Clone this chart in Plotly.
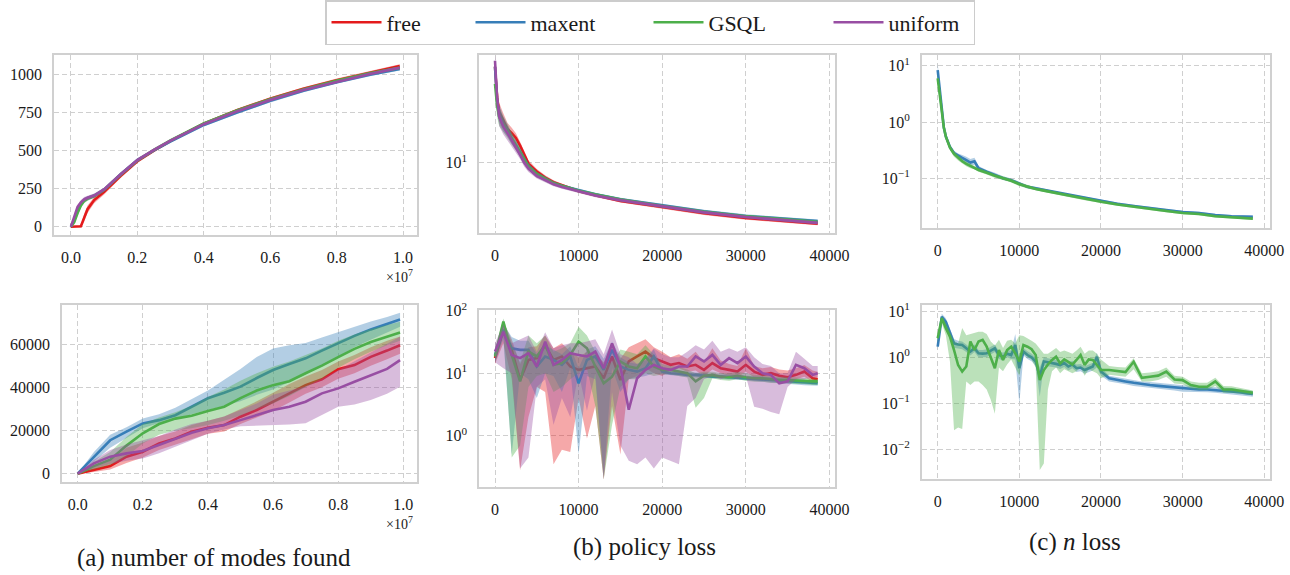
import plotly.graph_objects as go

W, H = 1290, 575
FONT = "Liberation Serif"
TXT = "#1a1a1a"
GRID = "#cfcfcf"
BOX = "#d0d0d0"

SERIES = ["free", "maxent", "GSQL", "uniform"]
COLORS = {"free": (228, 26, 28), "maxent": (55, 126, 184),
          "GSQL": (77, 175, 74), "uniform": (152, 78, 163)}

# ---------------- (a) top : number of modes found ----------------
a_top_steps = [0, 1e5, 2e5, 3e5, 4e5, 5e5, 7e5, 1e6, 1.5e6, 2e6, 2.5e6, 3e6,
               4e6, 5e6, 6e6, 7e6, 8e6, 9e6, 9.9e6]
a_top_free = [0, 0, 0, 3, 60, 115, 175, 230, 335, 430, 500, 563, 676, 765, 840, 905, 962, 1012, 1055]
a_top_maxent = [0, 50, 110, 150, 175, 187, 203, 244, 345, 437, 502, 560, 668, 750, 826, 892, 948, 998, 1035]
a_top_gsql = [0, 30, 90, 140, 170, 185, 202, 243, 343, 435, 505, 567, 678, 763, 837, 901, 958, 1007, 1043]
a_top_uniform = [0, 70, 130, 160, 180, 190, 205, 245, 345, 437, 505, 565, 673, 757, 832, 898, 953, 1003, 1043]
a_top_free_hw = [0, 2, 2, 8, 25, 25, 20, 18, 14, 12, 10, 10, 10, 10, 10, 10, 10, 10, 12]
a_top_other_hw = [0, 12, 15, 15, 15, 14, 13, 12, 12, 12, 10, 10, 10, 10, 10, 10, 10, 10, 10]

# ---------------- (a) bottom ----------------
a_bot_steps = [0, 5e5, 1e6, 1.5e6, 2e6, 2.5e6, 3e6, 3.5e6, 4e6, 4.5e6, 5e6, 5.5e6,
               6e6, 6.5e6, 7e6, 7.5e6, 8e6, 8.5e6, 9e6, 9.5e6, 9.9e6]
a_bot_free = [0, 1700, 3500, 7900, 10200, 14000, 16300, 19400, 21300, 22500, 26400, 29500,
              33300, 37200, 41000, 43700, 48400, 50300, 54100, 57000, 59500]
a_bot_free_lo = [0, 800, 2000, 5000, 7500, 11000, 13500, 16000, 18500, 19500, 23000, 26000,
                 29000, 33000, 37000, 40000, 44000, 46500, 50000, 53000, 55500]
a_bot_free_hi = [0, 3000, 6000, 12000, 14500, 17500, 19500, 22500, 24500, 26500, 30000, 33500,
                 37500, 41500, 45000, 48000, 52000, 55000, 58500, 61500, 63500]
a_bot_maxent = [0, 7900, 15500, 19500, 23300, 24800, 27100, 31000, 34900, 37500, 40300, 44300,
                48000, 50800, 53400, 57000, 60500, 63800, 66800, 69300, 71400]
a_bot_maxent_lo = [0, 5500, 12000, 16500, 21000, 23500, 25000, 27500, 29500, 31500, 33500, 36500,
                   39000, 42500, 46000, 50000, 54000, 58500, 62000, 65500, 68000]
a_bot_maxent_hi = [0, 10000, 18000, 21500, 25500, 27500, 30500, 34500, 38500, 43500, 48500, 54000,
                   58000, 59500, 60500, 63000, 65500, 68000, 70500, 72500, 74500]
a_bot_gsql = [0, 3500, 6500, 13000, 18700, 23000, 25500, 26800, 29000, 31000, 35000, 38500,
              41000, 42800, 46500, 50000, 54000, 57800, 61000, 63500, 65400]
a_bot_gsql_lo = [0, 2000, 4000, 8000, 14000, 18000, 20000, 21000, 22500, 24500, 27000, 30000,
                 32500, 36000, 40000, 44000, 49000, 53000, 56500, 59500, 61500]
a_bot_gsql_hi = [0, 5500, 10000, 17000, 23000, 26000, 28500, 31500, 35500, 39000, 43000, 46500,
                 49500, 52000, 55000, 58000, 61500, 64500, 67000, 69000, 70300]
a_bot_uniform = [0, 4800, 7900, 9400, 10500, 13300, 16300, 19000, 21000, 22500, 24800, 27100,
                 29500, 31000, 33300, 37200, 39500, 42600, 45700, 48500, 52600]
a_bot_uniform_lo = [0, 2500, 4500, 6000, 7000, 9500, 12500, 15500, 18500, 20500, 22000, 22500,
                    22500, 22800, 23300, 27000, 31000, 32000, 34100, 37000, 40300]
a_bot_uniform_hi = [0, 6500, 11000, 13500, 15500, 17500, 20500, 23000, 24500, 26500, 29500, 32500,
                    36500, 38500, 40500, 44000, 48000, 52000, 56000, 60000, 63400]

# ---------------- (b) top : policy loss ----------------
b_top_steps = [0, 250, 500, 1000, 1500, 2000, 2500, 3000, 3500, 4000, 5000, 6000, 7000, 8000,
               10000, 12000, 15000, 20000, 25000, 30000, 35000, 38600]
b_top_free = [32, 22, 18.5, 16.5, 15, 14.3, 13.5, 12.3, 11, 9.9, 9.0, 8.35, 7.9, 7.6, 7.1, 6.75,
              6.3, 5.85, 5.42, 5.12, 4.92, 4.78]
b_top_maxent = [32, 21, 18, 16, 14.8, 13.4, 12.4, 11.4, 10.4, 9.6, 8.7, 8.2, 7.8, 7.55, 7.15, 6.82,
                6.42, 5.95, 5.55, 5.25, 5.05, 4.93]
b_top_gsql = [26, 20, 17.5, 15.8, 14.6, 13.3, 12.3, 11.3, 10.3, 9.5, 8.7, 8.2, 7.8, 7.55, 7.12, 6.8,
              6.4, 5.92, 5.52, 5.22, 5.0, 4.88]
b_top_uniform = [34.4, 22, 17.5, 15.5, 14.3, 13.0, 12.0, 11.0, 10.0, 9.3, 8.5, 8.1, 7.7, 7.45, 7.05,
                 6.72, 6.35, 5.88, 5.48, 5.18, 4.98, 4.83]
b_top_band_ratio = [1.08, 1.15, 1.12, 1.1, 1.08, 1.07, 1.06, 1.05, 1.05, 1.04, 1.03, 1.03, 1.025,
                    1.02, 1.02, 1.02, 1.02, 1.02, 1.02, 1.02, 1.02, 1.02]

# ---------------- (b) bottom ----------------
b_bot_steps = list(range(0, 38001, 1000)) + [38600]
b_bot_free = [17.4, 49, 23.6, 7.8, 16.3, 17.4, 28, 16.3, 18.5, 12.8,
              11.3, 12, 12.8, 8.3, 18.5, 7.8, 15.4, 18.5, 22.2, 17.4,
              15.4, 13.6, 14.5, 12.8, 13.6, 11.3, 14.5, 12, 11.3, 10.6,
              13.6, 10.6, 9.4, 10, 9.1, 8.6, 9.4, 10.6, 8.3, 8.0]
b_bot_free_hi = [22, 65, 35, 14, 26, 27, 40, 25, 30, 22,
                 18, 22, 20, 15, 28, 17, 26, 30, 35, 26,
                 22, 18, 20, 17, 22, 15, 25, 16, 14, 13,
                 25, 13, 12, 12.5, 11.5, 11, 12, 13.5, 11, 10.5]
b_bot_free_lo = [14, 30, 8, 0.28, 2, 6, 5, 0.35, 0.6, 0.55,
                 4, 0.9, 3, 0.2, 3, 0.5, 8, 9, 12, 10,
                 9, 11, 12, 10.5, 11, 9, 11.5, 10, 9, 8.5,
                 10.5, 8.5, 7.8, 8.2, 7.6, 7.3, 8, 8.8, 7.2, 7.0]
b_bot_maxent = [19.6, 49, 25, 23.6, 23.6, 12.8, 18.5, 16.3, 13.6, 18.5,
                6.9, 16.3, 18.5, 11.3, 23.6, 12.8, 11.3, 10.6, 12, 18.5,
                10.6, 10, 9.8, 9.4, 9.4, 9.1, 8.8, 8.8, 8.6, 8.6,
                8.3, 8.2, 8.0, 7.8, 7.6, 7.4, 7.2, 7.1, 6.9, 6.9]
b_bot_maxent_hi = [25, 62, 38, 33, 33, 20, 28, 24, 20, 27,
                   12, 24, 27, 17, 32, 18, 15, 14, 16, 24,
                   12, 11, 10.8, 10.4, 10.3, 10, 9.6, 9.6, 9.4, 9.4,
                   9.1, 9, 8.8, 8.6, 8.4, 8.2, 8, 7.8, 7.6, 7.6]
b_bot_maxent_lo = [15, 35, 0.5, 10, 8, 4, 10, 9, 5, 12,
                   0.5, 9, 8, 0.22, 12, 5, 8, 8.5, 9, 10,
                   9.5, 9.2, 9.0, 8.7, 8.6, 8.4, 8.1, 8.1, 7.9, 7.9,
                   7.6, 7.5, 7.3, 7.1, 6.9, 6.7, 6.6, 6.4, 6.3, 6.3]
b_bot_gsql = [18.5, 67, 19.6, 7.4, 22.2, 18.5, 28.4, 13.6, 14.5, 19.6,
              32, 25, 12.8, 6.9, 8.8, 15.4, 12.8, 12, 18.5, 12.8,
              11.3, 11.3, 10.6, 10, 7.4, 9.1, 9.4, 8.8, 8.6, 9.1,
              8.6, 8.3, 8.3, 8.0, 7.8, 7.8, 7.6, 7.6, 7.4, 7.4]
b_bot_gsql_hi = [24, 75, 30, 15, 40, 30, 40, 22, 25, 30,
                 55, 40, 22, 14, 15, 24, 22, 20, 28, 20,
                 14, 13, 12.5, 11.5, 10, 10.5, 10.5, 10, 10, 10.5,
                 9.8, 9.4, 9.3, 9.0, 8.8, 8.7, 8.5, 8.4, 8.2, 8.1]
b_bot_gsql_lo = [15, 40, 0.45, 0.7, 6, 9, 10, 5, 6, 8,
                 10, 12, 3, 0.2, 1.5, 6, 8, 8, 10, 9,
                 9.5, 9.5, 9, 8.5, 2.8, 4, 8.3, 7.8, 7.6, 8,
                 7.6, 7.3, 7.3, 7.0, 6.9, 6.9, 6.7, 6.7, 6.5, 6.5]
b_bot_uniform = [22.2, 46, 19.6, 17.4, 20.9, 12.8, 32, 13.6, 16.3, 20.9,
                 19.6, 18.5, 22.2, 12, 30, 12.8, 2.6, 8.3, 11.3, 13.6,
                 12, 11.3, 12.8, 12.8, 18.5, 15.4, 19.6, 13.6, 17.4, 14.5,
                 18.5, 12.8, 10, 9.4, 6.9, 7.4, 13.6, 12, 9.4, 10]
b_bot_uniform_hi = [30, 60, 30, 35, 40, 22, 45, 25, 28, 30,
                    30, 32, 35, 20, 50, 20, 18, 14, 17, 25,
                    20, 18, 18, 22, 28, 24, 33, 22, 25, 22,
                    26, 18, 14, 13, 10, 10, 22, 17, 13, 13]
b_bot_uniform_lo = [15, 12, 10, 0.3, 0.45, 6, 8, 1.5, 4, 2,
                    10, 2.5, 10, 0.2, 5, 0.7, 0.4, 0.35, 0.45, 0.3,
                    0.45, 0.4, 0.35, 3, 4, 8, 9, 8, 9, 8,
                    9, 2.9, 2.7, 2.4, 2.2, 6, 8, 8, 8.5, 8.5]

# ---------------- (c) top : n loss ----------------
c_top_steps = [0, 250, 500, 750, 1000, 1500, 2000, 2500, 3000, 3500, 4000, 4500, 5000, 6000, 7000,
               8000, 9000, 10000, 11000, 12000, 13000, 14000, 16000, 18000, 20000, 22000, 24000,
               26000, 28000, 30000, 32000, 34000, 36000, 38600]
c_top_maxent = [8.4, 3.5, 1.6, 0.8, 0.55, 0.36, 0.28, 0.25, 0.23, 0.21, 0.19, 0.2, 0.15, 0.13, 0.115,
                0.1, 0.092, 0.08, 0.07, 0.066, 0.062, 0.057, 0.05, 0.044, 0.039, 0.035, 0.032,
                0.029, 0.027, 0.025, 0.024, 0.022, 0.021, 0.0205]
c_top_gsql = [6.0, 3.0, 1.5, 0.8, 0.55, 0.35, 0.27, 0.23, 0.2, 0.18, 0.165, 0.155, 0.14, 0.125, 0.11,
              0.1, 0.09, 0.078, 0.07, 0.064, 0.06, 0.056, 0.049, 0.043, 0.038, 0.034, 0.031,
              0.028, 0.026, 0.024, 0.023, 0.021, 0.02, 0.019]
c_top_maxent_ratio = [1.3, 1.25, 1.2, 1.15, 1.12, 1.1, 1.1, 1.1, 1.12, 1.15, 1.15, 1.15, 1.1, 1.08,
                      1.08, 1.08, 1.07, 1.07, 1.07, 1.07, 1.07, 1.06, 1.06, 1.06, 1.05, 1.05, 1.05,
                      1.05, 1.05, 1.05, 1.05, 1.05, 1.05, 1.05]
c_top_gsql_ratio = [1.2, 1.2, 1.2, 1.15, 1.12, 1.12, 1.12, 1.12, 1.1, 1.1, 1.1, 1.08, 1.08, 1.08,
                    1.08, 1.08, 1.08, 1.08, 1.07, 1.07, 1.07, 1.06, 1.06, 1.06, 1.06, 1.05, 1.05,
                    1.05, 1.05, 1.05, 1.05, 1.05, 1.05, 1.05]

# ---------------- (c) bottom ----------------
c_bot_steps = list(range(0, 20001, 500)) + list(range(21000, 38001, 1000)) + [38600]
c_bot_maxent = [1.7, 7.6, 5.9, 3.3, 2.0, 1.9, 1.85, 1.57, 1.33, 1.57, 1.22, 1.2, 1.22, 1.4, 1.57,
                1.12, 1.03, 1.2, 1.12, 1.85, 0.58, 1.33, 1.12, 1.0, 0.81, 0.38, 0.81, 0.78, 0.76,
                0.72, 0.68, 0.75, 0.63, 0.7, 0.58, 0.6, 0.53, 0.58, 0.63, 1.03, 0.49,
                0.35, 0.32, 0.3, 0.28, 0.26, 0.25, 0.24, 0.23, 0.22, 0.21, 0.205, 0.2, 0.2,
                0.195, 0.19, 0.185, 0.175, 0.165, 0.16]
c_bot_maxent_hi = [2.0, 8.8, 7.0, 4.0, 2.5, 2.3, 2.2, 1.9, 1.6, 1.9, 1.45, 1.45, 1.5, 1.7, 1.9,
                   1.35, 1.25, 1.45, 1.4, 3.2, 0.75, 1.6, 1.35, 1.2, 1.0, 0.6, 1.0, 0.95, 0.92,
                   0.88, 0.82, 0.9, 0.76, 0.84, 0.7, 0.72, 0.64, 0.7, 0.76, 1.25, 0.6,
                   0.4, 0.37, 0.35, 0.32, 0.3, 0.29, 0.28, 0.27, 0.26, 0.245, 0.24, 0.23, 0.23,
                   0.225, 0.22, 0.215, 0.2, 0.19, 0.185]
c_bot_maxent_lo = [1.4, 6.3, 4.8, 2.7, 1.6, 1.55, 1.5, 1.3, 1.1, 1.3, 1.0, 1.0, 1.0, 1.15, 1.3,
                   0.92, 0.85, 1.0, 0.92, 0.9, 0.1, 1.1, 0.92, 0.82, 0.66, 0.14, 0.66, 0.64, 0.62,
                   0.6, 0.56, 0.62, 0.52, 0.58, 0.48, 0.5, 0.44, 0.48, 0.52, 0.6, 0.4,
                   0.3, 0.28, 0.26, 0.24, 0.225, 0.215, 0.21, 0.2, 0.19, 0.18, 0.178, 0.174,
                   0.174, 0.17, 0.165, 0.16, 0.152, 0.143, 0.139]
c_bot_gsql = [2.6, 7.0, 4.3, 2.8, 1.44, 0.68, 0.49, 0.63, 2.2, 1.44, 2.2, 2.4, 1.7, 1.03, 0.58,
              1.44, 0.875, 1.44, 1.7, 1.22, 0.81, 1.85, 1.7, 1.5, 1.12, 0.32, 0.53, 0.7, 0.875,
              1.03, 0.74, 0.9, 0.81, 0.7, 0.875, 1.12, 0.68, 0.9, 0.875, 0.7, 0.53,
              0.53, 0.5, 0.48, 0.8, 0.36, 0.38, 0.4, 0.49, 0.33, 0.32, 0.25, 0.23, 0.23,
              0.3, 0.2, 0.2, 0.19, 0.175, 0.17]
c_bot_gsql_hi = [3.2, 8.0, 5.5, 3.6, 2.3, 2.0, 4.3, 3.0, 3.2, 3.5, 3.6, 3.6, 3.2, 2.2, 1.8,
                 2.4, 1.6, 2.3, 2.4, 2.0, 3.0, 2.9, 2.6, 2.3, 2.0, 1.5, 1.2, 1.2, 1.4,
                 1.6, 1.3, 1.4, 1.3, 1.2, 1.4, 1.7, 1.2, 1.4, 1.4, 1.2, 0.9,
                 0.65, 0.62, 0.6, 0.95, 0.45, 0.47, 0.5, 0.6, 0.4, 0.38, 0.3, 0.28, 0.28,
                 0.36, 0.24, 0.235, 0.22, 0.2, 0.19]
c_bot_gsql_lo = [2.1, 5.5, 3.0, 0.8, 0.026, 0.03, 0.028, 0.3, 0.25, 0.3, 0.3, 0.25, 0.2, 0.12,
                 0.06, 0.6, 0.5, 0.7, 0.9, 0.6, 0.4, 1.2, 1.0, 0.9, 0.6, 0.0036, 0.005, 0.2, 0.5,
                 0.6, 0.45, 0.55, 0.5, 0.45, 0.5, 0.6, 0.4, 0.55, 0.5, 0.45, 0.35,
                 0.42, 0.4, 0.38, 0.55, 0.3, 0.3, 0.32, 0.38, 0.27, 0.26, 0.21, 0.195, 0.195,
                 0.24, 0.17, 0.17, 0.165, 0.155, 0.15]


def xd(left, right):
    return [left / W, right / W]


def yd(top, bottom):
    return [1 - bottom / H, 1 - top / H]


def rgba(name, a):
    r, g, b = COLORS[name]
    return f"rgba({r},{g},{b},{a})"


fig = go.Figure()


def add_series(k, name, xs, mean, lo, hi, legend=False, lw=None):
    xa = "x" if k == 1 else f"x{k}"
    ya = "y" if k == 1 else f"y{k}"
    fig.add_trace(go.Scatter(
        x=list(xs) + list(xs)[::-1], y=list(hi) + list(lo)[::-1],
        xaxis=xa, yaxis=ya, mode="lines", fill="toself",
        fillcolor=rgba(name, 0.38), line=dict(width=0), showlegend=False,
        hoverinfo="skip"))
    fig.add_trace(go.Scatter(
        x=xs, y=mean, xaxis=xa, yaxis=ya, mode="lines", name=name,
        line=dict(color=rgba(name, 1), width=2.6), showlegend=legend,
        legendwidth=lw))


# (a) top
a_top = {"free": (a_top_free, a_top_free_hw), "maxent": (a_top_maxent, a_top_other_hw),
         "GSQL": (a_top_gsql, a_top_other_hw), "uniform": (a_top_uniform, a_top_other_hw)}
LW = {"free": 79, "maxent": 113, "GSQL": 115, "uniform": 80}
for s in SERIES:
    m, hw = a_top[s]
    add_series(1, s, a_top_steps, m, [v - h for v, h in zip(m, hw)],
               [v + h for v, h in zip(m, hw)], legend=True, lw=LW[s])

# (b) top
b_top = {"free": b_top_free, "maxent": b_top_maxent, "GSQL": b_top_gsql, "uniform": b_top_uniform}
for s in SERIES:
    m = b_top[s]
    add_series(2, s, b_top_steps, m, [v / r for v, r in zip(m, b_top_band_ratio)],
               [v * r for v, r in zip(m, b_top_band_ratio)])

# (c) top
c_top = {"maxent": (c_top_maxent, c_top_maxent_ratio), "GSQL": (c_top_gsql, c_top_gsql_ratio)}
for s in ["maxent", "GSQL"]:
    m, rr = c_top[s]
    add_series(3, s, c_top_steps, m, [v / r for v, r in zip(m, rr)],
               [v * r for v, r in zip(m, rr)])

# (a) bottom
a_bot = {"free": (a_bot_free, a_bot_free_lo, a_bot_free_hi),
         "maxent": (a_bot_maxent, a_bot_maxent_lo, a_bot_maxent_hi),
         "GSQL": (a_bot_gsql, a_bot_gsql_lo, a_bot_gsql_hi),
         "uniform": (a_bot_uniform, a_bot_uniform_lo, a_bot_uniform_hi)}
for s in SERIES:
    m, lo, hi = a_bot[s]
    add_series(4, s, a_bot_steps, m, lo, hi)

# (b) bottom
b_bot = {"free": (b_bot_free, b_bot_free_lo, b_bot_free_hi),
         "maxent": (b_bot_maxent, b_bot_maxent_lo, b_bot_maxent_hi),
         "GSQL": (b_bot_gsql, b_bot_gsql_lo, b_bot_gsql_hi),
         "uniform": (b_bot_uniform, b_bot_uniform_lo, b_bot_uniform_hi)}
for s in SERIES:
    m, lo, hi = b_bot[s]
    add_series(5, s, b_bot_steps, m, lo, hi)

# (c) bottom
c_bot = {"maxent": (c_bot_maxent, c_bot_maxent_lo, c_bot_maxent_hi),
         "GSQL": (c_bot_gsql, c_bot_gsql_lo, c_bot_gsql_hi)}
for s in ["maxent", "GSQL"]:
    m, lo, hi = c_bot[s]
    add_series(6, s, c_bot_steps, m, lo, hi)


def axis_style(**kw):
    d = dict(showline=True, mirror=True, linecolor=BOX, linewidth=1.5,
             showgrid=True, gridcolor=GRID, griddash="5px,3px", gridwidth=1,
             zeroline=False, ticks="outside", ticklen=7, tickcolor="rgba(0,0,0,0)",
             automargin=False,
             tickfont=dict(family=FONT, size=16, color=TXT))
    d.update(kw)
    return d


frac_ticks = [0, 2e6, 4e6, 6e6, 8e6, 1e7]
frac_text = ["0.0", "0.2", "0.4", "0.6", "0.8", "1.0"]
step_ticks = [0, 10000, 20000, 30000, 40000]
step_text = ["0", "10000", "20000", "30000", "40000"]

layout = dict(
    width=W, height=H, margin=dict(l=0, r=0, t=0, b=0, autoexpand=False),
    paper_bgcolor="white", plot_bgcolor="white",
    font=dict(family=FONT, color=TXT),
    # (a) top
    xaxis=axis_style(domain=xd(54, 417), range=[-0.51e6, 10.42e6], tickvals=frac_ticks,
                     ticktext=frac_text, anchor="y"),
    yaxis=axis_style(domain=yd(55, 235), range=[-54, 1127],
                     tickvals=[0, 250, 500, 750, 1000], ticktext=["0", "250", "500", "750", "1000"],
                     anchor="x"),
    # (b) top
    xaxis2=axis_style(domain=xd(479, 835), range=[-1914, 40670], tickvals=step_ticks,
                      ticktext=step_text, anchor="y2"),
    yaxis2=axis_style(domain=yd(55, 232.7), type="log", range=[0.632, 1.567],
                      tickvals=[10], ticktext=["10<sup>1</sup>"], anchor="x2"),
    # (c) top
    xaxis3=axis_style(domain=xd(921.7, 1270), range=[-1960, 40700], tickvals=step_ticks,
                      ticktext=step_text, anchor="y3"),
    yaxis3=axis_style(domain=yd(55, 228.3), type="log", range=[-1.893, 1.193],
                      tickvals=[0.1, 1, 10],
                      ticktext=["10<sup>\u22121</sup>", "10<sup>0</sup>", "10<sup>1</sup>"],
                      anchor="x3"),
    # (a) bottom
    xaxis4=axis_style(domain=xd(62, 417), range=[-0.48e6, 10.42e6], tickvals=frac_ticks,
                      ticktext=frac_text, anchor="y4"),
    yaxis4=axis_style(domain=yd(305, 482), range=[-3840, 78100],
                      tickvals=[0, 20000, 40000, 60000],
                      ticktext=["0", "20000", "40000", "60000"], anchor="x4"),
    # (b) bottom
    xaxis5=axis_style(domain=xd(479, 835), range=[-1914, 40670], tickvals=step_ticks,
                      ticktext=step_text, anchor="y5"),
    yaxis5=axis_style(domain=yd(310, 487.3), type="log", range=[-0.824, 2.01],
                      tickvals=[1, 10, 100],
                      ticktext=["10<sup>0</sup>", "10<sup>1</sup>", "10<sup>2</sup>"], anchor="x5"),
    # (c) bottom
    xaxis6=axis_style(domain=xd(921.7, 1270), range=[-1960, 40700], tickvals=step_ticks,
                      ticktext=step_text, anchor="y6"),
    yaxis6=axis_style(domain=yd(305, 479), type="log", range=[-2.64, 1.135],
                      tickvals=[0.01, 0.1, 1, 10],
                      ticktext=["10<sup>\u22122</sup>", "10<sup>\u22121</sup>", "10<sup>0</sup>",
                                "10<sup>1</sup>"], anchor="x6"),
    legend=dict(orientation="h", x=325 / W, xanchor="left", y=1.0, yanchor="top",
                bgcolor="white", bordercolor="#cccccc", borderwidth=1.5,
                font=dict(family=FONT, size=22, color=TXT), itemwidth=50,
                tracegroupgap=0),
    showlegend=True,
)
fig.update_layout(**layout)

annotations = [
    dict(text="(a) number of modes found", x=214 / W, y=1 - 558 / H, size=25),
    dict(text="(b) policy loss", x=644 / W, y=1 - 547 / H, size=25),
    dict(text="(c) <i>n</i> loss", x=1075 / W, y=1 - 542 / H, size=25),
    dict(text="\u00d710<sup>7</sup>", x=399 / W, y=1 - 276 / H, size=14),
    dict(text="\u00d710<sup>7</sup>", x=399 / W, y=1 - 523 / H, size=14),
]
for a in annotations:
    fig.add_annotation(text=a["text"], x=a["x"], y=a["y"], xref="paper", yref="paper",
                       xanchor="center", yanchor="middle", showarrow=False,
                       font=dict(family=FONT, size=a["size"], color=TXT))

fig.write_html("out.html", config={"displayModeBar": False},
               post_script="document.body.style.margin='0px';")
